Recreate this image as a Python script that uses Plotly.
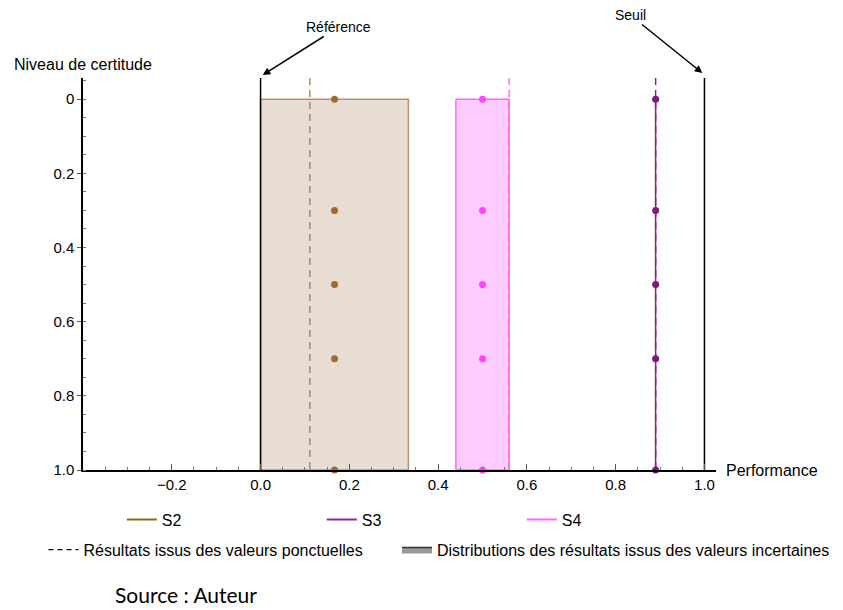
import plotly.graph_objects as go

# ---------------- data ----------------
series = ["S2", "S3", "S4"]
dist_low = [0.0, 0.89, 0.44]        # uncertain-result distribution lower bound
dist_high = [0.333, 0.89, 0.56]     # uncertain-result distribution upper bound
point_value = [0.111, 0.89, 0.56]   # result from point values (dashed)
mid_value = [0.1667, 0.89, 0.50]    # central value (dots)
certainty_levels = [0.0, 0.3, 0.5, 0.7, 1.0]
reference_x = 0.0
threshold_x = 1.0
x_ticks = [-0.2, 0.0, 0.2, 0.4, 0.6, 0.8, 1.0]
y_ticks = [0.0, 0.2, 0.4, 0.6, 0.8, 1.0]
y_ticktext = ["0", "0.2", "0.4", "0.6", "0.8", "1.0"]

# ---------------- styles ----------------
FONT = "Liberation Sans, Arial, sans-serif"
box_fill = ["rgba(232,221,211,1)", "rgba(0,0,0,0)", "rgba(255,204,255,1)"]
box_line = ["#b8926c", "#882288", "#ff66ff"]
box_width = [1.5, 1.5, 1.5]
dash_col = ["#b08a68", "#882288", "#ff66ff"]
dot_col = ["#a06a35", "#7a1a7a", "#ff44ff"]
legend_col = ["#8b6914", "#8b2a8b", "#ff66ff"]

X_RANGE = [-0.4, 1.026]
Y_TOP = -0.057
Y_RANGE = [1.0, Y_TOP]

fig = go.Figure()

# distributions: fills
for i, s in enumerate(series):
    lo, hi = dist_low[i], dist_high[i]
    fig.add_trace(go.Scatter(
        x=[lo, hi, hi, lo, lo], y=[0, 0, 1, 1, 0],
        mode="lines", fill="toself", fillcolor=box_fill[i],
        line=dict(width=0, color="rgba(0,0,0,0)"),
        showlegend=False, hoverinfo="skip"))

# point values (dashed lines)
for i, s in enumerate(series):
    fig.add_trace(go.Scatter(
        x=[point_value[i], point_value[i]], y=[Y_TOP, 1.0],
        mode="lines", line=dict(color=dash_col[i], width=1.5, dash="7px,5px"),
        showlegend=False, hoverinfo="skip", cliponaxis=False))

# distributions: outlines
for i, s in enumerate(series):
    lo, hi = dist_low[i], dist_high[i]
    fig.add_trace(go.Scatter(
        x=[lo, hi, hi, lo, lo], y=[0, 0, 1, 1, 0],
        mode="lines", line=dict(color=box_line[i], width=box_width[i]),
        showlegend=False, hoverinfo="skip"))

# reference / threshold lines
for xv in [reference_x, threshold_x]:
    fig.add_trace(go.Scatter(
        x=[xv, xv], y=[Y_TOP, 1.0], mode="lines",
        line=dict(color="black", width=1.5),
        showlegend=False, hoverinfo="skip", cliponaxis=False))

# dots
for i, s in enumerate(series):
    fig.add_trace(go.Scatter(
        x=[mid_value[i]] * len(certainty_levels), y=certainty_levels,
        mode="markers", marker=dict(color=dot_col[i], size=7),
        showlegend=False, cliponaxis=False))

# legend row 1
for i, s in enumerate(series):
    fig.add_trace(go.Scatter(
        x=[None], y=[None], mode="lines", name=s,
        line=dict(color=legend_col[i], width=2), legend="legend"))

# legend row 2
fig.add_trace(go.Scatter(
    x=[None], y=[None], mode="lines",
    name="Résultats issus des valeurs ponctuelles",
    line=dict(color="black", width=1.2, dash="5px,4px"), legend="legend2"))
fig.add_trace(go.Scatter(
    x=[None], y=[None], mode="lines", fill="toself", fillcolor="#999999",
    name="Distributions des résultats issus des valeurs incertaines",
    line=dict(color="#333333", width=1.5), legend="legend3"))

fig.update_layout(
    width=835, height=602,
    margin=dict(l=75, r=127, t=70, b=140, autoexpand=False),
    paper_bgcolor="white", plot_bgcolor="white",
    font=dict(family=FONT, size=16, color="black"),
    xaxis=dict(
        range=X_RANGE, showgrid=False, zeroline=False,
        showline=True, linecolor="black", linewidth=1.5,
        ticks="inside", ticklen=6, tickwidth=1, tickcolor="#555",
        tickvals=x_ticks, tickformat=".1f",
        minor=dict(ticks="inside", ticklen=3, dtick=0.05, tick0=0, tickcolor="#777", showgrid=False),
        tickfont=dict(size=15)),
    yaxis=dict(
        range=Y_RANGE, showgrid=False, zeroline=False,
        showline=True, linecolor="black", linewidth=1.5,
        ticks="outside", ticklen=4, tickwidth=1, tickcolor="#555",
        tickvals=y_ticks, ticktext=y_ticktext,
        minor=dict(ticks="inside", ticklen=3, dtick=0.05, tick0=0, tickcolor="#777", showgrid=False),
        tickfont=dict(size=15)),
    legend=dict(orientation="h", x=0.0613, y=-0.083, xanchor="left", yanchor="top",
                entrywidth=155, entrywidthmode="pixels",
                font=dict(size=16), bgcolor="rgba(0,0,0,0)"),
    legend2=dict(orientation="h", x=-0.0624, y=-0.16, xanchor="left", yanchor="top",
                 font=dict(size=16), bgcolor="rgba(0,0,0,0)"),
    legend3=dict(orientation="h", x=(397 - 83) / 633, y=-0.16, xanchor="left", yanchor="top",
                 font=dict(size=16), bgcolor="rgba(0,0,0,0)"),
    showlegend=True,
)

# axis titles and callouts
fig.add_annotation(text="Niveau de certitude", xref="paper", yref="paper",
                   x=0.0, y=1.0, yshift=14, xanchor="center", yanchor="middle",
                   showarrow=False, font=dict(size=16))
fig.add_annotation(text="Performance", xref="paper", yref="paper",
                   x=1.0, y=0.0, xshift=8, xanchor="left", yanchor="middle",
                   showarrow=False, font=dict(size=16))
fig.add_annotation(text="Référence", xref="x", yref="paper",
                   x=reference_x + 0.005, y=1.0 + 3 / 392, ax=76, ay=-48,
                   showarrow=True, arrowhead=2, arrowsize=1, arrowwidth=1.5,
                   arrowcolor="black", font=dict(size=14))
fig.add_annotation(text="Seuil", xref="x", yref="paper",
                   x=threshold_x - 0.005, y=1.0 + 5 / 392, ax=-72, ay=-58,
                   showarrow=True, arrowhead=2, arrowsize=1, arrowwidth=1.5,
                   arrowcolor="black", font=dict(size=14))
fig.add_annotation(text="Source : Auteur", xref="paper", yref="paper",
                   x=(113 - 83) / 633, y=-(594 - 470) / 392, xanchor="left", yanchor="middle",
                   showarrow=False, font=dict(family="Lato, Open Sans, sans-serif", size=21))

fig.write_html("out.html")
